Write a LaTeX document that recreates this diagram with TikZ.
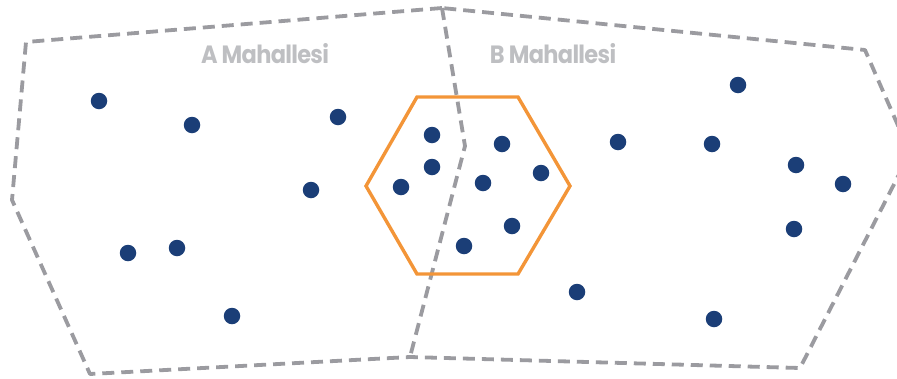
\documentclass[tikz,border=0pt]{standalone}
\usepackage{fontspec}
\setmainfont{Poppins}[UprightFont=* Bold, LetterSpace=-3]
\definecolor{border}{RGB}{155,155,160}
\definecolor{labelgray}{RGB}{190,191,194}
\definecolor{dotblue}{RGB}{27,62,119}
\definecolor{zone}{RGB}{243,149,56}
\tikzset{
  district/.style={draw=border, line width=3.8pt, dash pattern=on 12pt off 7pt, line join=round},
  zonebox/.style={draw=zone, line width=3.4pt, line join=miter},
  house/.style={circle, fill=dotblue, inner sep=0pt, minimum size=16.5pt},
  districtname/.style={text=labelgray, inner sep=0pt, font=\fontsize{25}{28}\selectfont}
}
\begin{document}
\begin{tikzpicture}[x=1pt, y=-1pt]
\useasboundingbox (0,0) rectangle (897,378);
\begin{scope}
\clip (0,0) rectangle (897,378);
% corners of the two districts
\coordinate (tl) at (26,42);
\coordinate (tm) at (442,8);
\coordinate (tr) at (865,50);
\coordinate (re) at (910,153);
\coordinate (br) at (800,368);
\coordinate (bm) at (410,357);
\coordinate (bl) at (90,374);
\coordinate (le) at (12,200);
\coordinate (mid) at (465,146);
% outer boundary
\draw[district] (tm) -- (tl) -- (le) -- (bl) -- (bm) -- (br) -- (re) -- (tr) -- cycle;
% shared boundary
\draw[district] (tm) -- (mid) -- (bm);
\end{scope}
% hexagonal zone
\coordinate (h1) at (366,186);
\coordinate (h2) at (417,97);
\coordinate (h3) at (518,97);
\coordinate (h4) at (570,186);
\coordinate (h5) at (518,274);
\coordinate (h6) at (417,274);
\draw[zonebox] (h1) -- (h2) -- (h3) -- (h4) -- (h5) -- (h6) -- cycle;
% labels
\node[districtname, anchor=base] (la) at (265,63) {\scalebox{0.9}[1]{A Mahallesi}};
\node[districtname, anchor=base] (lb) at (553,63) {\scalebox{0.9}[1]{B Mahallesi}};
% houses
\foreach \n/\x/\y in {
  1/99/101, 2/192/125, 3/338/117, 4/311/190, 5/432/135, 6/432/167,
  7/401/187, 8/502/144, 9/483/183, 10/541/173, 11/512/226, 12/464/246,
  13/128/253, 14/177/248, 15/232/316, 16/618/142, 17/712/144, 18/738/85,
  19/796/165, 20/843/184, 21/794/229, 22/577/292, 23/714/319}
  \node[house] (d\n) at (\x,\y) {};
\end{tikzpicture}
\end{document}
